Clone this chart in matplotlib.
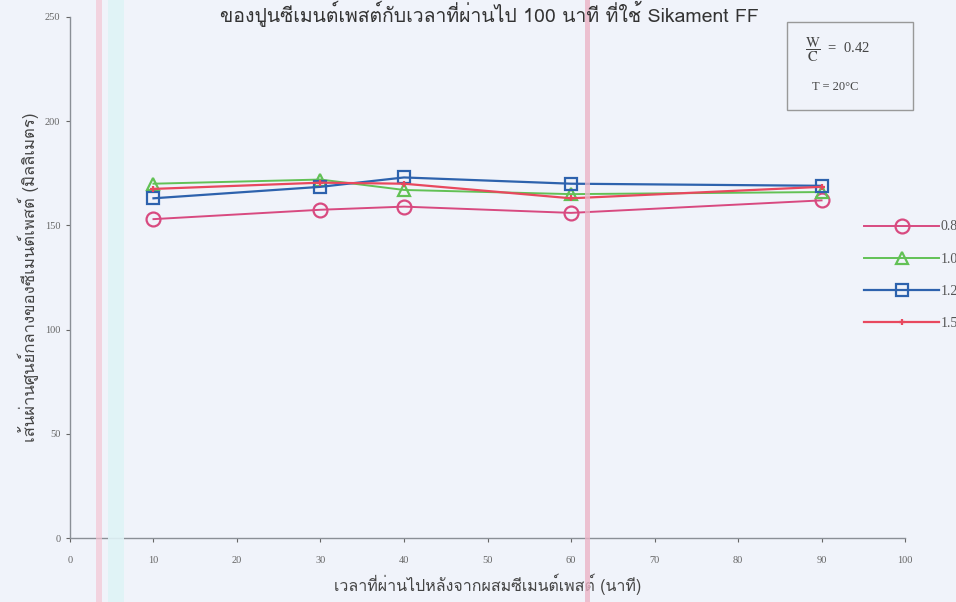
import matplotlib
matplotlib.use("Agg")
import matplotlib.pyplot as plt
from matplotlib import font_manager
from matplotlib.ft2font import FT2Font
from matplotlib.patches import Rectangle

# elapsed time after mixing (minutes)
time_min = [10, 30, 40, 60, 90]

# spread diameter of the cement paste (mm) for each dosage
dosage_labels = ["0.8", "1.0", "1.2", "1.5"]
d_08 = [153, 157.5, 159, 156, 162]
d_10 = [170, 172, 167, 165, 166]
d_12 = [163, 168.5, 173, 170, 169]
d_15 = [167.5, 170.5, 170, 163, 168.5]

x_ticks = [0, 10, 20, 30, 40, 50, 60, 70, 80, 90, 100]
y_ticks = [0, 50, 100, 150, 200, 250]

title_text = "ของปูนซีเมนต์เพสต์กับเวลาที่ผ่านไป 100 นาที ที่ใช้ Sikament FF"
x_label = "เวลาที่ผ่านไปหลังจากผสมซีเมนต์เพสต์ (นาที)"
y_label = "เส้นผ่านศูนย์กลางของซีเมนต์เพสต์ (มิลลิเมตร)"


def thai_family():
    for f in font_manager.fontManager.ttflist:
        try:
            if FT2Font(f.fname).get_char_index(0x0E01):
                return f.name
        except Exception:
            pass
    return None


th = thai_family()
serif = ["Liberation Serif", "DejaVu Serif"]
thai_fam = ([th] if th else []) + serif

plt.rcParams["font.family"] = serif
plt.rcParams["mathtext.fontset"] = "stix"

fig = plt.figure(figsize=(9.56, 6.02), dpi=100)
bg = "#f0f3fa"
fig.patch.set_facecolor(bg)

# scanner streaks
for x0, w, c, a in [(0.100, 0.007, "#f4c6d4", 0.7), (0.113, 0.017, "#dff3f6", 0.9),
                    (0.612, 0.005, "#ebb4c6", 0.8)]:
    fig.patches.append(Rectangle((x0, 0), w, 1, transform=fig.transFigure,
                                 facecolor=c, edgecolor="none", alpha=a, zorder=0))

ax = fig.add_axes([0.0732, 0.1063, 0.8735, 0.8655])
ax.set_facecolor("none")

series = [
    (d_08, "#d84a80", "o", 10, 1.4),
    (d_10, "#62c155", "^", 9, 1.4),
    (d_12, "#2d62ad", "s", 8, 1.6),
    (d_15, "#e8485e", "+", 5, 1.6),
]
handles = []
for vals, col, mk, ms, lw in series:
    ln, = ax.plot(time_min, vals, color=col, marker=mk, markersize=ms,
                  markerfacecolor="none", markeredgecolor=col, markeredgewidth=1.6,
                  linewidth=lw)
    handles.append(ln)

ax.set_xlim(0, 100)
ax.set_ylim(0, 250)
ax.set_xticks(x_ticks)
ax.set_yticks(y_ticks)
ax.tick_params(labelsize=7.5, colors="#666666", length=3, width=0.8)
ax.tick_params(axis="x", pad=10)
ax.tick_params(axis="y", pad=4)
for s in ["top", "right"]:
    ax.spines[s].set_visible(False)
for s in ["left", "bottom"]:
    ax.spines[s].set_color("#8a8f96")
    ax.spines[s].set_linewidth(1.0)

ax.set_xlabel(x_label, family=thai_fam, fontsize=11.5, color="#444444", labelpad=6)
ax.set_ylabel(y_label, family=thai_fam, fontsize=12, color="#444444", labelpad=4)

fig.text(0.512, 0.999, title_text, family=thai_fam, fontsize=14, color="#333333",
         ha="center", va="top")

leg = fig.legend(handles, dosage_labels, loc="upper left",
                 bbox_to_anchor=(0.898, 0.643), frameon=False, fontsize=10,
                 handlelength=5.4, handletextpad=0.1, labelspacing=1.38,
                 borderaxespad=0)
for t in leg.get_texts():
    t.set_color("#555555")

# mix condition box
fig.patches.append(Rectangle((0.823, 0.817), 0.132, 0.146, transform=fig.transFigure,
                             facecolor="none", edgecolor="#999999", linewidth=1.0))
fig.text(0.842, 0.918, r"$\dfrac{\mathrm{W}}{\mathrm{C}}$  =  0.42", fontsize=10.5,
         color="#444444", va="center", ha="left")
fig.text(0.849, 0.855, "T = 20°C", fontsize=9, color="#444444", va="center", ha="left")

fig.savefig("out.png", dpi=100, facecolor=bg)
